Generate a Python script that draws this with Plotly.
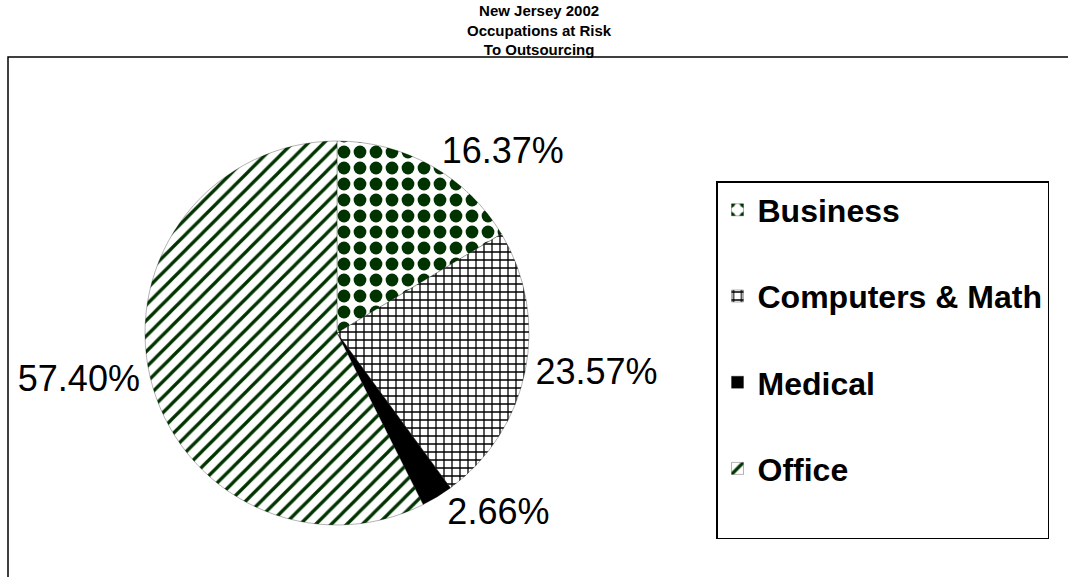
import plotly.graph_objects as go

# ---- data ----
categories = ["Business", "Computers & Math", "Medical", "Office"]
shares = [16.37, 23.57, 2.66, 57.40]
title_lines = ["New Jersey 2002", "Occupations at Risk", "To Outsourcing"]

# ---- styles ----
GREEN = "#003300"
pattern_shapes = [".", "+", "", "/"]
pattern_fg = [GREEN, "black", "black", GREEN]
pattern_bg = ["white", "white", "black", "white"]
pattern_size = [16, 8, 8, 11]
pattern_solidity = [0.5, 0.3, 0.3, 0.3]
slice_colors = ["white", "white", "black", "white"]
FONT = "Arial, Liberation Sans, sans-serif"

W, H = 1068, 577

legend_labels = [c + "<br> " for c in categories]

fig = go.Figure(
    go.Pie(
        labels=legend_labels,
        values=shares,
        sort=False,
        direction="clockwise",
        rotation=0,
        textposition="outside",
        texttemplate="%{percent:.2%}",
        textfont=dict(family=FONT, size=36, color="black"),
        marker=dict(
            colors=slice_colors,
            line=dict(color="rgba(0,0,0,0.6)", width=0.5),
            pattern=dict(
                shape=pattern_shapes,
                fgcolor=pattern_fg,
                bgcolor=pattern_bg,
                size=pattern_size,
                solidity=pattern_solidity,
                fillmode="replace",
            ),
        ),
        domain=dict(x=[145 / W, 529 / W], y=[(H - 525) / H, (H - 141) / H]),
        hoverinfo="label+percent",
        showlegend=True,
    )
)

fig.update_layout(
    width=W,
    height=H,
    margin=dict(l=0, r=0, t=0, b=0),
    paper_bgcolor="white",
    plot_bgcolor="white",
    annotations=[
        dict(
            text="<br>".join(title_lines),
            xref="paper",
            yref="paper",
            x=0.505,
            y=(H - 1) / H,
            xanchor="center",
            yanchor="top",
            showarrow=False,
            borderpad=0,
            font=dict(family=FONT, size=15, color="black", weight="bold"),
        )
    ],
    legend=dict(
        x=716 / W,
        xanchor="left",
        y=(H - 181) / H,
        yanchor="top",
        valign="top",
        bgcolor="white",
        bordercolor="black",
        borderwidth=1.5,
        font=dict(family=FONT, size=32, color="black", weight="bold"),
        traceorder="normal",
    ),
    shapes=[
        dict(
            type="rect",
            xref="paper",
            yref="paper",
            x0=8 / W,
            x1=1.02,
            y0=-0.02,
            y1=(H - 57) / H,
            line=dict(color="black", width=1.5),
            fillcolor="rgba(0,0,0,0)",
            layer="below",
        )
    ],
)

fig.write_html("out.html")
